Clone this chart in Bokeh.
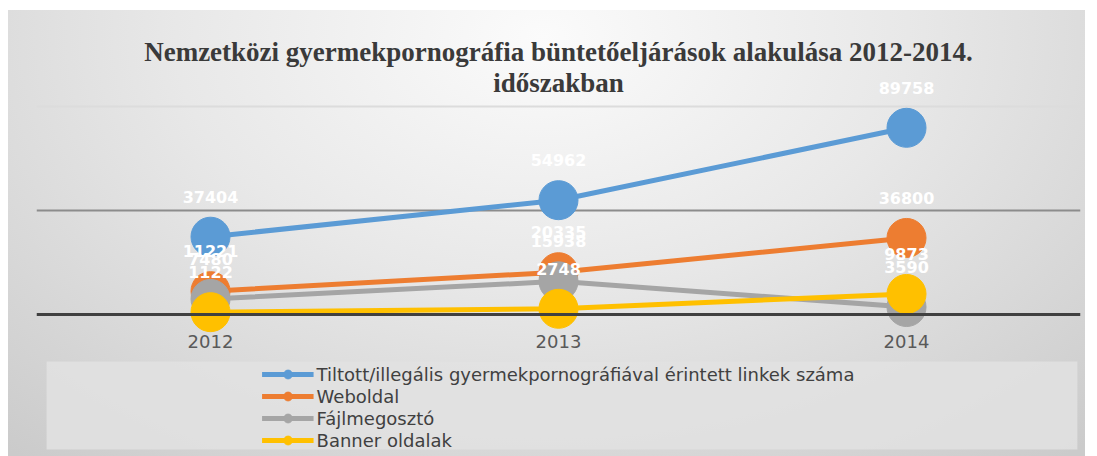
from bokeh.plotting import figure
from bokeh.models import (ColumnDataSource, Range1d, FactorRange, Legend, LegendItem, Label,
                          Span, Grid, FixedTicker, BoxAnnotation)
from bokeh.core.properties import value
from bokeh.embed import file_html
from bokeh.resources import INLINE

# ---- data ----
years = ["2012", "2013", "2014"]
links = [37404, 54962, 89758]
weboldal = [11221, 20335, 36800]
fajlmegoszto = [7480, 15938, 3590]
banner = [1122, 2748, 9873]
series_names = ["Tiltott/illegális gyermekpornográfiával érintett linkek száma",
                "Weboldal", "Fájlmegosztó", "Banner oldalak"]
series_values = [links, weboldal, fajlmegoszto, banner]
colors = ["#5B9BD5", "#ED7D31", "#A5A5A5", "#FFC000"]
title_lines = ["Nemzetközi gyermekpornográfia büntetőeljárások alakulása 2012-2014.",
               "időszakban"]
major_grid = [50000]
minor_grid = [100000]
axis_base = 0

# value scale: 104 px per 50000 units, base line 314 px from top
Y_TOP, Y_BOTTOM = 150962, -68269

p = figure(x_range=FactorRange(*years, range_padding=0),
           y_range=Range1d(Y_BOTTOM, Y_TOP),
           width=1085, height=456, output_backend="svg", toolbar_location=None,
           min_border_left=36, min_border_right=5, min_border_top=0,
           min_border_bottom=0)
p.title.visible = False
p.styles = {
    "background-image":
        "radial-gradient(ellipse 75% 120% at 50% 8%, #fbfbfb 0%, #e8e8e8 45%, #cbcbcb 100%)",
    "box-shadow": "inset 8px 10px 0 0 #ffffff",
}
p.border_fill_alpha = 0
p.background_fill_alpha = 0
p.outline_line_color = None

p.xaxis.visible = False
p.yaxis.visible = False
p.xgrid.visible = False
p.ygrid.ticker = FixedTicker(ticks=major_grid)
p.ygrid.grid_line_color = "#8c8c8c"
p.ygrid.grid_line_width = 2
g2 = Grid(dimension=1, ticker=FixedTicker(ticks=minor_grid),
          grid_line_color="#dcdcdc", grid_line_width=2)
p.add_layout(g2)
p.add_layout(Span(location=axis_base, dimension="width", line_color="#404040", line_width=3))

# legend background box (decorative)
p.add_layout(BoxAnnotation(left=0.029, right=2.991, top=-22596, bottom=-64904,
                           fill_color="#e2e2e2", fill_alpha=0.85, line_color=None,
                           level="underlay"))

# category labels under the base line
p.text(x=years, y=[axis_base] * len(years), text=years, y_offset=27,
       text_align="center", text_baseline="middle",
       text_font=value("DejaVu Sans"), text_font_size="18px", text_color="#595959")

items = []
sources = []
for name, vals, col in zip(series_names, series_values, colors):
    src = ColumnDataSource(dict(x=years, y=vals, label=[str(v) for v in vals]))
    sources.append(src)
    r1 = p.line("x", "y", source=src, line_color=col, line_width=5)
    r2 = p.scatter("x", "y", source=src, marker="circle", size=39,
                   fill_color=col, line_color=col)
    items.append(LegendItem(label=name, renderers=[r1, r2]))

for src in sources:
    p.text("x", "y", text="label", source=src, y_offset=-40,
           text_align="center", text_baseline="middle",
           text_font=value("DejaVu Sans"), text_font_style="bold",
           text_font_size="16px", text_color="white")

legend = Legend(items=items, orientation="vertical", location="bottom_center",
                glyph_width=52, glyph_height=22, label_height=22, spacing=0,
                label_standoff=3, padding=2, margin=5,
                label_text_font="DejaVu Sans", label_text_font_size="18px",
                label_text_color="#404040", label_text_baseline="middle",
                background_fill_alpha=0, border_line_color=None)
p.add_layout(legend, "center")

# two-line title
p.add_layout(Label(x=1.5, y=125962, text=title_lines[0],
                   text_align="center", text_baseline="alphabetic",
                   text_font="Liberation Serif", text_font_style="bold",
                   text_font_size="27px", text_color="#3a3a3a"))
p.add_layout(Label(x=1.5, y=111538, text=title_lines[1],
                   text_align="center", text_baseline="alphabetic",
                   text_font="Liberation Serif", text_font_style="bold",
                   text_font_size="27px", text_color="#3a3a3a"))

open("out.html", "w").write(file_html(p, INLINE))
